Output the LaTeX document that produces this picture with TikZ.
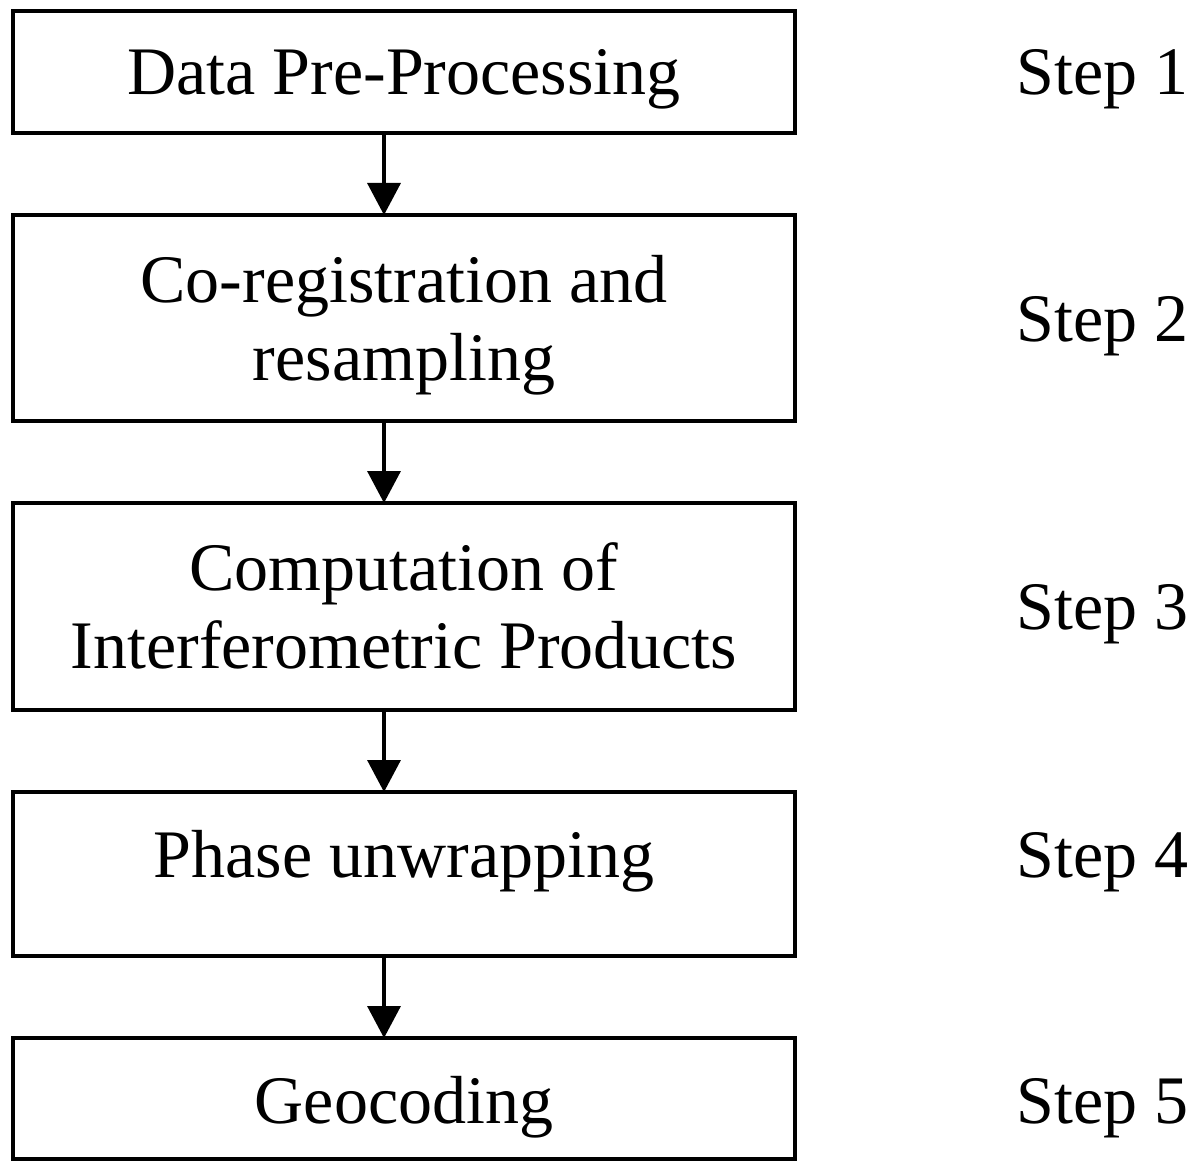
\documentclass[tikz,border=0pt]{standalone}
\usepackage{fontspec}
\setmainfont{Liberation Serif}
\usetikzlibrary{arrows.meta}
\begin{document}
\begin{tikzpicture}[x=0.5pt,y=-0.5pt,
  stagebox/.style={draw=black, line width=1.75pt, rectangle, inner sep=0pt, outer sep=0pt,
    minimum width=391pt},
  stagetext/.style={anchor=base, align=center, inner sep=0pt,
    font=\fontsize{34}{39}\selectfont},
  steplabel/.style={anchor=base west, inner sep=0pt,
    font=\fontsize{34}{39}\selectfont},
  flow/.style={line width=1.75pt, -{Triangle[width=16.5pt,length=16pt]}}]
  \useasboundingbox (0,0) rectangle (1192,1160);

  % process boxes
  \node[stagebox, minimum height=61pt]   (b1) at (404,72)    {};
  \node[stagebox, minimum height=103pt]  (b2) at (404,318)   {};
  \node[stagebox, minimum height=103.5pt](b3) at (404,606.5) {};
  \node[stagebox, minimum height=82pt]   (b4) at (404,874)   {};
  \node[stagebox, minimum height=60.5pt] (b5) at (404,1098.5){};

  % box texts (base anchor sits on the last line's baseline)
  \node[stagetext] (t1) at (404,95)   {Data Pre-Processing};
  \node[stagetext] (t2) at (404,380)  {Co-registration and\\resampling};
  \node[stagetext] (t3) at (404,668)  {Computation of\\Interferometric Products};
  \node[stagetext] (t4) at (404,877)  {Phase unwrapping};
  \node[stagetext] (t5) at (404,1123) {Geocoding};

  % step labels
  \node[steplabel] (s1) at (1016,95)   {Step 1};
  \node[steplabel] (s2) at (1016,342)  {Step 2};
  \node[steplabel] (s3) at (1016,629)  {Step 3};
  \node[steplabel] (s4) at (1016,877)  {Step 4};
  \node[steplabel] (s5) at (1016,1123) {Step 5};

  % connectors
  \coordinate (ax) at (384,0);
  \draw[flow] (b1.south -| ax) -- (b2.north -| ax);
  \draw[flow] (b2.south -| ax) -- (b3.north -| ax);
  \draw[flow] (b3.south -| ax) -- (b4.north -| ax);
  \draw[flow] (b4.south -| ax) -- (b5.north -| ax);
\end{tikzpicture}
\end{document}
